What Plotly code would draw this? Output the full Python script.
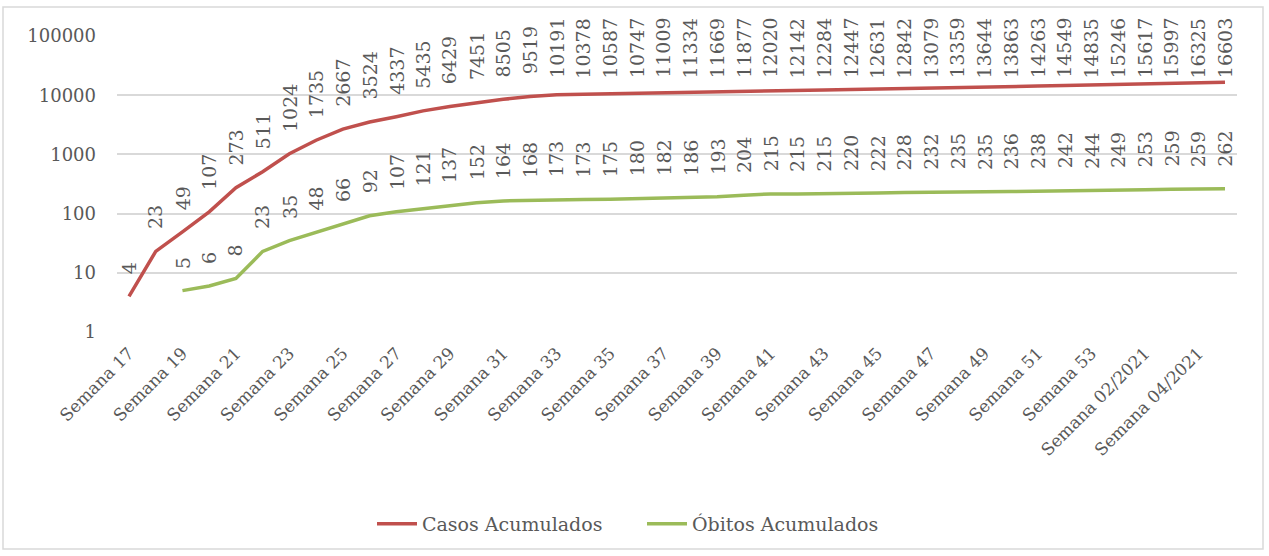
import math

import plotly.graph_objects as go

# ── Data ──────────────────────────────────────────────────────────────────────
SEMANAS = [f"Semana {n}" for n in range(17, 54)] + [
    "Semana 01/2021",
    "Semana 02/2021",
    "Semana 03/2021",
    "Semana 04/2021",
    "Semana 05/2021",
]

CASOS = [
    4, 23, 49, 107, 273, 511, 1024, 1735, 2667, 3524, 4337, 5435, 6429, 7451,
    8505, 9519, 10191, 10378, 10587, 10747, 11009, 11334, 11669, 11877, 12020,
    12142, 12284, 12447, 12631, 12842, 13079, 13359, 13644, 13863, 14263,
    14549, 14835, 15246, 15617, 15997, 16325, 16603,
]

# deaths start at week 19
OBITOS = [
    None, None, 5, 6, 8, 23, 35, 48, 66, 92, 107, 121, 137, 152, 164, 168, 173,
    173, 175, 180, 182, 186, 193, 204, 215, 215, 215, 220, 222, 228, 232, 235,
    235, 236, 238, 242, 244, 249, 253, 259, 259, 262,
]

Y_TICKS = [1, 10, 100, 1000, 10000, 100000]
Y_TICK_TEXT = ["1", "10", "100", "1000", "10000", "100000"]

# ── Style ─────────────────────────────────────────────────────────────────────
C_CASOS = "#C0504D"
C_OBITOS = "#9BBB59"
TEXT = "#595959"
GRID = "#D9D9D9"
FONT = "DejaVu Serif"

W, H = 1269, 556
M_L, M_R, M_T, M_B = 117, 32, 36, 224
PLOT_W = W - M_L - M_R
PLOT_H = H - M_T - M_B
DECADE_PX = PLOT_H / 5

LBL_SIZE = 19
LBL_GAP = 22      # px between point and bottom of label
TOP_LIMIT = 18    # labels can't go above this pixel row (chart area)

fig = go.Figure()
fig.add_trace(go.Scatter(
    x=SEMANAS, y=CASOS, name="Casos Acumulados", mode="lines",
    line=dict(color=C_CASOS, width=3.5),
))
fig.add_trace(go.Scatter(
    x=SEMANAS, y=OBITOS, name="Óbitos Acumulados", mode="lines",
    line=dict(color=C_OBITOS, width=3.5),
))


def add_labels(values):
    for sem, v in zip(SEMANAS, values):
        if v is None:
            continue
        txt = str(v)
        h = len(txt) * 0.636 * LBL_SIZE
        y_px = M_T + (5 - math.log10(v)) * DECADE_PX
        common = dict(
            x=sem, xref="x", text=txt, textangle=-90, showarrow=False,
            font=dict(family=FONT, size=LBL_SIZE, color=TEXT),
            xanchor="center", yanchor="middle", borderpad=0,
        )
        if y_px - LBL_GAP - h < TOP_LIMIT:
            # Excel pushes labels back inside the chart area
            fig.add_annotation(**common, y=1, yref="paper",
                               yshift=M_T - TOP_LIMIT - h / 2)
        else:
            fig.add_annotation(**common, y=math.log10(v), yref="y",
                               yshift=LBL_GAP + h / 2)


add_labels(CASOS)
add_labels(OBITOS)

# chart border
fig.add_shape(
    type="rect", xref="paper", yref="paper",
    x0=(3 - M_L) / PLOT_W, x1=(1263 - M_L) / PLOT_W,
    y0=(M_T + PLOT_H - 549) / PLOT_H, y1=(M_T + PLOT_H - 7) / PLOT_H,
    line=dict(color="#D9D9D9", width=1.5), layer="below",
)

fig.update_layout(
    width=W, height=H,
    margin=dict(l=M_L, r=M_R, t=M_T, b=M_B),
    paper_bgcolor="white", plot_bgcolor="white",
    font=dict(family=FONT, size=18, color=TEXT),
    showlegend=True,
    legend=dict(
        orientation="h", x=(372 - M_L) / PLOT_W, xanchor="left",
        y=(M_T + PLOT_H - 524) / PLOT_H, yanchor="middle",
        font=dict(family=FONT, size=19, color=TEXT),
        entrywidth=215, entrywidthmode="pixels",
        itemwidth=40, tracegroupgap=0,
    ),
)
fig.update_xaxes(
    type="category", tickvals=SEMANAS[::2], tickangle=-45,
    showgrid=False, showline=False, ticks="", ticklabelstandoff=7,
    tickfont=dict(family=FONT, size=17, color=TEXT),
)
fig.update_yaxes(
    type="log", range=[0, 5], tickvals=Y_TICKS, ticktext=Y_TICK_TEXT,
    showgrid=True, gridcolor=GRID, gridwidth=1.5, showline=False,
    zeroline=False, ticks="", ticklabelstandoff=20,
    tickfont=dict(family=FONT, size=18, color=TEXT),
)

fig.write_html(
    "out.html",
    config={"displayModeBar": False},
    post_script="document.body.style.margin='0';",
)
